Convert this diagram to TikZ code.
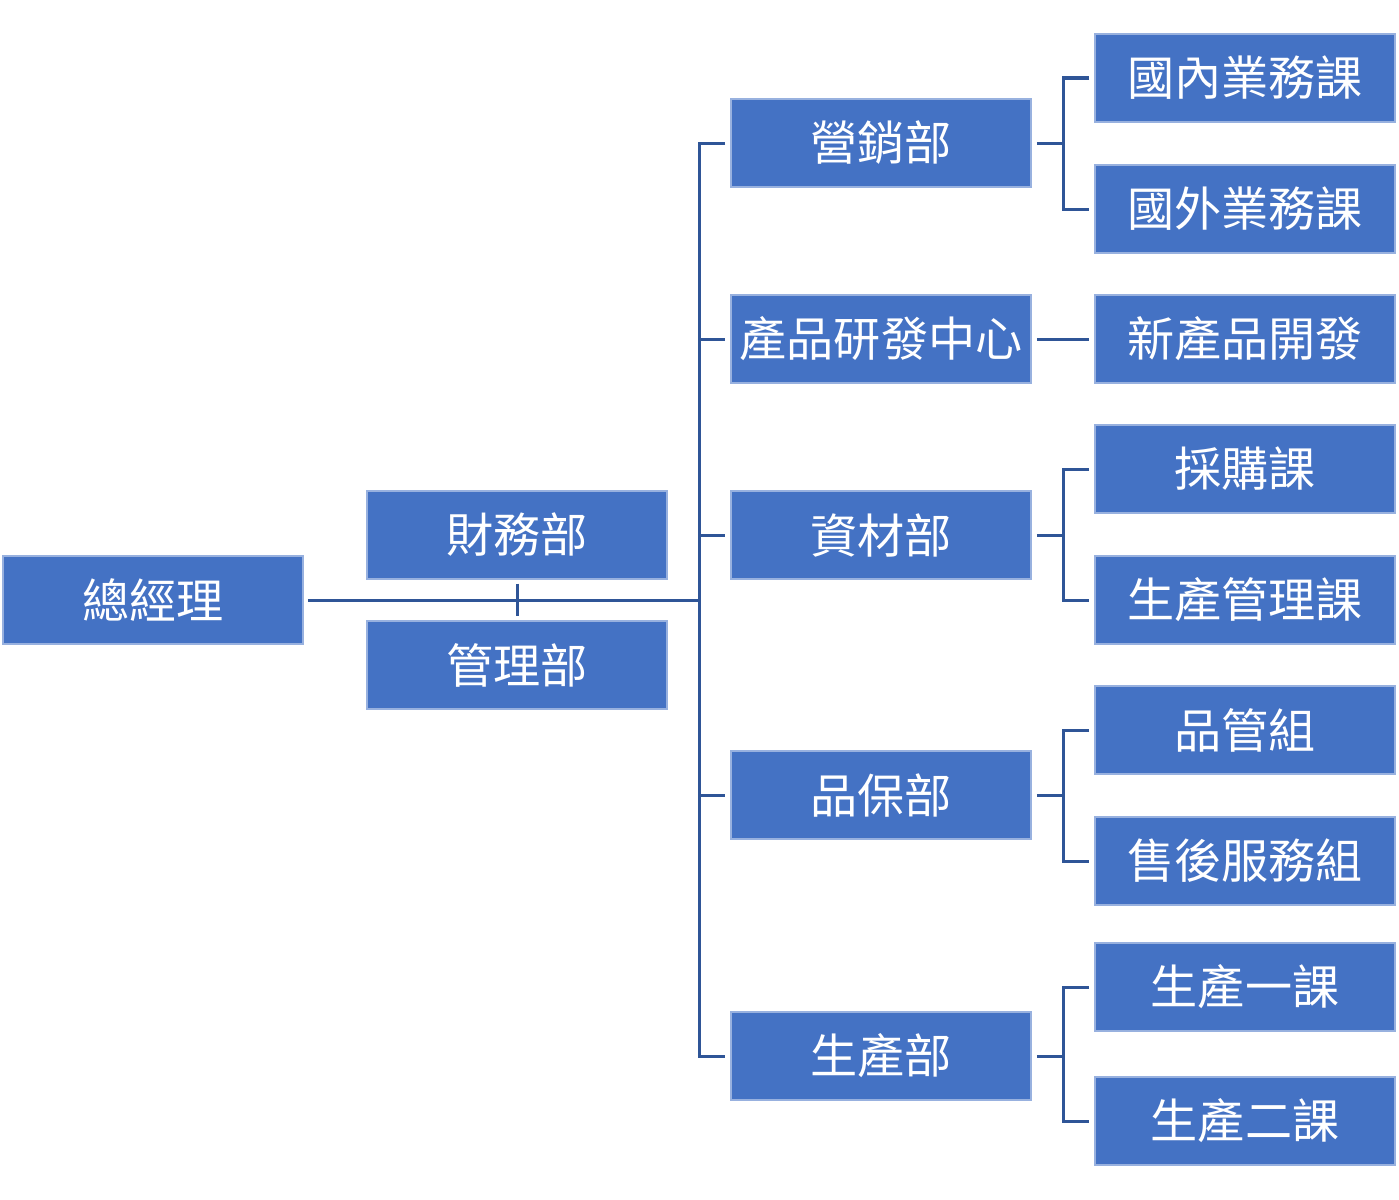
\documentclass[tikz,border=0pt]{standalone}
\usepackage{fontspec}
\newfontfamily\cjk{Noto Sans CJK TC}
\definecolor{boxblue}{HTML}{4472C4}
\definecolor{lineblue}{HTML}{2F5597}
\begin{document}
\begin{tikzpicture}[x=0.01cm,y=-0.01cm,
    unit/.style={fill=boxblue,draw=boxblue!55!white,line width=0.4pt,minimum width=3cm,minimum height=0.88cm,inner sep=0pt,text=white,font=\cjk\fontsize{13.4}{16}\selectfont},
    link/.style={draw=lineblue,line width=0.03cm}]
    \useasboundingbox (0,0) rectangle (1399,1200);
    \node[unit] (gm) at (153,600) {總經理};
    \node[unit] (fin) at (517,535) {財務部};
    \node[unit] (adm) at (517,665) {管理部};
    \node[unit] (mkt) at (881,143) {營銷部};
    \node[unit] (rnd) at (881,339) {產品研發中心};
    \node[unit] (mat) at (881,535) {資材部};
    \node[unit] (qa) at (881,795) {品保部};
    \node[unit] (prod) at (881,1056) {生產部};
    \node[unit] (dom) at (1245,78) {國內業務課};
    \node[unit] (ovs) at (1245,209) {國外業務課};
    \node[unit] (npd) at (1245,339) {新產品開發};
    \node[unit] (pur) at (1245,469) {採購課};
    \node[unit] (pmc) at (1245,600) {生產管理課};
    \node[unit] (qc) at (1245,730) {品管組};
    \node[unit] (svc) at (1245,861) {售後服務組};
    \node[unit] (pa) at (1245,987) {生產一課};
    \node[unit] (pb) at (1245,1121) {生產二課};
    \coordinate (hub) at (699,600);
    \draw[link,shorten <=0.04cm] (gm.east) -- (hub);
    \draw[link,shorten <=0.04cm,shorten >=0.04cm] (fin.south) -- (adm.north);
    \draw[link,shorten <=0.05cm,shorten >=0.05cm] (mkt.west) -| (hub) |- (prod.west);
    \foreach \d in {rnd,mat,qa}
        \draw[link,shorten >=0.05cm] (hub |- \d.west) -- (\d.west);
    \draw[link,shorten <=0.05cm,shorten >=0.05cm] (rnd.east) -- (npd.west);
    \foreach \d/\a/\b in {mkt/dom/ovs,mat/pur/pmc,qa/qc/svc,prod/pa/pb}{
        \coordinate (br) at ([xshift=0.32cm]\d.east);
        \draw[link,shorten <=0.05cm] (\d.east) -- (br);
        \draw[link,shorten <=0.05cm,shorten >=0.05cm] (\a.west) -| (br) |- (\b.west);
    }
\end{tikzpicture}
\end{document}
